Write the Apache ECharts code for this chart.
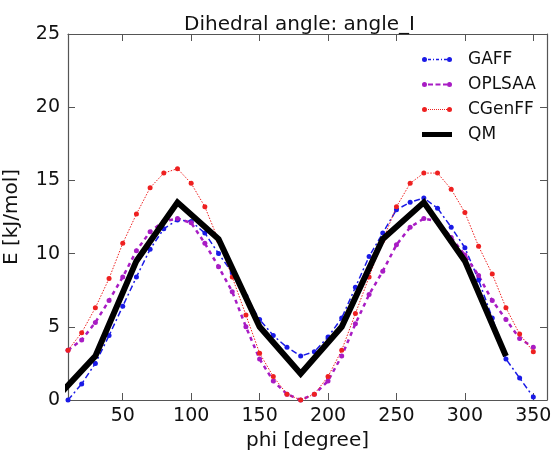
<!DOCTYPE html>
<html>
<head>
<meta charset="utf-8">
<script src="https://cdn.jsdelivr.net/npm/echarts@6/dist/echarts.min.js"></script>
<style>
  html, body { margin: 0; padding: 0; background: #fff; }
  #chart { width: 554px; height: 450px; }
</style>
</head>
<body>
<div id="chart"></div>
<script>
// sampled every 10 degrees for the force fields, every 30 for QM
var angles = [10, 20, 30, 40, 50, 60, 70, 80, 90, 100, 110, 120, 130, 140, 150, 160, 170, 180,
  190, 200, 210, 220, 230, 240, 250, 260, 270, 280, 290, 300, 310, 320, 330, 340, 350];
var gaff = [0.0, 1.1, 2.5, 4.4, 6.4, 8.4, 10.3, 11.7, 12.3, 12.2, 11.4, 10.0, 8.7, 7.1, 5.5, 4.4, 3.6, 3.0,
  3.3, 4.3, 5.6, 7.7, 9.8, 11.4, 13.0, 13.5, 13.8, 13.1, 11.8, 10.4, 8.2, 5.6, 2.8, 1.5, 0.2];
var oplsaa = [3.4, 4.1, 5.3, 6.8, 8.4, 10.2, 11.5, 12.2, 12.4, 12.1, 10.7, 9.1, 7.4, 5.0, 2.8, 1.3, 0.4, 0.0,
  0.4, 1.3, 3.0, 5.2, 7.2, 8.8, 10.6, 11.8, 12.4, 12.2, 11.1, 9.9, 8.5, 6.8, 5.5, 4.2, 3.6];
var cgenff = [3.4, 4.6, 6.3, 8.3, 10.7, 12.7, 14.5, 15.5, 15.8, 14.8, 13.2, 10.9, 8.4, 5.8, 3.2, 1.6, 0.4, 0.0,
  0.4, 1.6, 3.4, 5.9, 8.4, 10.9, 13.2, 14.8, 15.5, 15.5, 14.4, 12.8, 10.5, 8.6, 6.3, 4.5, 3.3];
var qmAngles = [0, 30, 60, 90, 120, 150, 180, 210, 240, 270, 300, 330];
var qm = [0.0, 3.0, 9.5, 13.5, 11.0, 5.0, 1.8, 5.0, 11.0, 13.5, 9.5, 3.0];
var xTicks = [50, 100, 150, 200, 250, 300, 350];

function pairs(xs, ys) {
  return xs.map(function (x, i) { return [x, ys[i]]; });
}

// legend icons drawn like matplotlib: a dot at each end, line pattern between
function dot(cx) {
  return 'M' + (cx - 2.5) + ',2.5A2.5,2.5 0 1 0 ' + (cx + 2.5) + ',2.5A2.5,2.5 0 1 0 ' + (cx - 2.5) + ',2.5Z';
}
function seg(x0, x1, h) {
  var y0 = 2.5 - h / 2, y1 = 2.5 + h / 2;
  return 'M' + x0 + ',' + y0 + 'L' + x1 + ',' + y0 + 'L' + x1 + ',' + y1 + 'L' + x0 + ',' + y1 + 'Z';
}
function icon(segs, h) {
  var p = dot(2.5) + dot(27.5);
  segs.forEach(function (s) { p += seg(s[0], s[1], h); });
  return 'path://' + p;
}
var gaffIcon = icon([[6, 9], [11, 12], [14, 17], [19, 20], [22, 25]], 1.3);
var oplsaaIcon = icon([[6, 11], [13.5, 18.5], [21, 25]], 2);
var cgenffIcon = icon([[6, 7], [8, 9], [10, 11], [12, 13], [14, 15], [16, 17], [18, 19], [20, 21], [22, 23], [24, 25]], 1);
var qmIcon = 'path://M0,0L30,0L30,5L0,5Z';

var font = 'DejaVu Sans';
var frameColor = '#555';

var chart = echarts.init(document.getElementById('chart'));

chart.setOption({
  animation: false,
  textStyle: { fontFamily: font },
  title: {
    text: 'Dihedral angle: angle_I',
    left: 179,
    top: 10,
    textStyle: { fontFamily: font, fontSize: 20, fontWeight: 'normal', color: '#111' }
  },
  grid: { left: 68, right: 7, top: 34, bottom: 50, outerBoundsMode: 'none', containLabel: false },
  legend: {
    orient: 'vertical',
    left: 417,
    top: 46,
    itemWidth: 30,
    itemHeight: 5,
    itemGap: 8,
    textStyle: { fontFamily: font, fontSize: 17, color: '#111', padding: [0, 0, 0, 11] },
    data: [
      { name: 'GAFF', icon: gaffIcon },
      { name: 'OPLSAA', icon: oplsaaIcon },
      { name: 'CGenFF', icon: cgenffIcon },
      { name: 'QM', icon: qmIcon }
    ]
  },
  xAxis: [{
    type: 'value',
    min: 10,
    max: 360,
    name: 'phi [degree]',
    nameLocation: 'middle',
    nameGap: 29,
    nameTextStyle: { fontFamily: font, fontSize: 20, color: '#111' },
    axisLine: { show: true, onZero: false, lineStyle: { color: frameColor, width: 1.2 } },
    axisTick: { show: true, inside: true, length: 7, customValues: xTicks, lineStyle: { color: frameColor } },
    axisLabel: { customValues: xTicks, fontFamily: font, fontSize: 19, color: '#111', margin: 7 },
    splitLine: { show: false }
  }, {
    type: 'value',
    position: 'top',
    min: 10,
    max: 360,
    axisLine: { show: true, onZero: false, lineStyle: { color: frameColor, width: 1.2 } },
    axisTick: { show: true, inside: true, length: 7, customValues: xTicks, lineStyle: { color: frameColor } },
    axisLabel: { show: false },
    splitLine: { show: false }
  }],
  yAxis: [{
    type: 'value',
    min: 0,
    max: 25,
    interval: 5,
    name: 'E [kJ/mol]',
    nameLocation: 'middle',
    nameGap: 46,
    nameTextStyle: { fontFamily: font, fontSize: 20, color: '#111' },
    axisLine: { show: true, onZero: false, lineStyle: { color: frameColor, width: 1.2 } },
    axisTick: { show: true, inside: true, length: 7, lineStyle: { color: frameColor } },
    axisLabel: { fontFamily: font, fontSize: 19, color: '#111', margin: 8 },
    splitLine: { show: false }
  }, {
    type: 'value',
    position: 'right',
    min: 0,
    max: 25,
    interval: 5,
    axisLine: { show: true, onZero: false, lineStyle: { color: frameColor, width: 1.2 } },
    axisTick: { show: true, inside: true, length: 7, lineStyle: { color: frameColor } },
    axisLabel: { show: false },
    splitLine: { show: false }
  }],
  series: [{
    name: 'GAFF',
    type: 'line',
    data: pairs(angles, gaff),
    color: '#1a1ae6',
    symbol: 'circle',
    symbolSize: 5,
    lineStyle: { width: 1.5, type: [6, 3, 2, 3] },
    z: 2
  }, {
    name: 'OPLSAA',
    type: 'line',
    data: pairs(angles, oplsaa),
    color: '#a81cc4',
    symbol: 'circle',
    symbolSize: 5,
    lineStyle: { width: 2.5, type: [4, 4] },
    z: 2
  }, {
    name: 'CGenFF',
    type: 'line',
    data: pairs(angles, cgenff),
    color: '#ee2020',
    symbol: 'circle',
    symbolSize: 5,
    lineStyle: { width: 1, type: [1.5, 1.5] },
    z: 2
  }, {
    name: 'QM',
    type: 'line',
    data: pairs(qmAngles, qm),
    color: '#000',
    symbol: 'none',
    lineStyle: { width: 6, cap: 'butt', join: 'miter' },
    z: 3
  }]
});
</script>
</body>
</html>
